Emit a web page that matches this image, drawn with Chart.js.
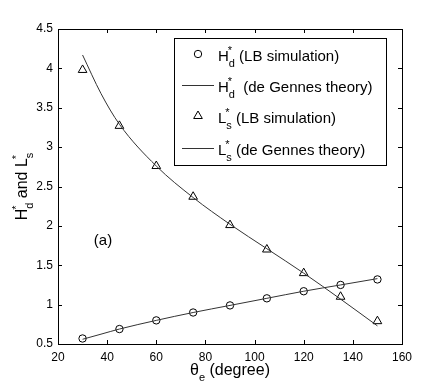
<!DOCTYPE html>
<html>
<head>
<meta charset="utf-8">
<script src="https://cdn.jsdelivr.net/npm/chart.js@4"></script>
<style>
  html, body { margin: 0; padding: 0; background: #fff; }
  #wrap { width: 443px; height: 388px; }
</style>
</head>
<body>
<div id="wrap"><canvas id="chart" width="443" height="388"></canvas></div>
<script>
// ── Data ──────────────────────────────────────────────────────────────────
const thetaSim    = [30, 45, 60, 75, 90, 105, 120, 135, 150];
const hdSim       = [0.57, 0.69, 0.80, 0.90, 0.99, 1.08, 1.17, 1.25, 1.32];
const lsSim       = [3.98, 3.27, 2.76, 2.37, 2.01, 1.70, 1.40, 1.10, 0.79];

const thetaTheory = [30, 37.5, 45, 60, 75, 90, 105, 120, 135, 150];
const hdTheory    = [0.56, 0.625, 0.69, 0.80, 0.90, 0.99, 1.08, 1.17, 1.25, 1.33];
const lsTheory    = [4.17, 3.68, 3.29, 2.76, 2.36, 2.02, 1.71, 1.40, 1.07, 0.73];

const xTicks = [20, 40, 60, 80, 100, 120, 140, 160];
const yTicks = [0.5, 1, 1.5, 2, 2.5, 3, 3.5, 4, 4.5];

const FONT = '"Liberation Sans", Arial, Helvetica, sans-serif';
const LINE = '#333';

const pts = (xs, ys) => xs.map((x, i) => ({ x, y: ys[i] }));

// ── Text with sub/superscript ─────────────────────────────────────────────
function drawSym(ctx, base, sub, sup, x, y, size) {
  ctx.font = size + 'px ' + FONT;
  ctx.fillText(base, x, y);
  let w = ctx.measureText(base).width;
  const small = Math.round(size * 0.7);
  ctx.font = small + 'px ' + FONT;
  let extra = 0;
  if (sub) { ctx.fillText(sub, x + w, y + 6); extra = ctx.measureText(sub).width; }
  if (sup) { ctx.fillText(sup, x + w - 1, y - 7); extra = Math.max(extra, ctx.measureText(sup).width - 1); }
  return w + extra;
}
function symWidth(ctx, base, sub, size) {
  ctx.font = size + 'px ' + FONT;
  const w = ctx.measureText(base).width;
  ctx.font = Math.round(size * 0.7) + 'px ' + FONT;
  return w + (sub ? ctx.measureText(sub).width : 0);
}
function drawText(ctx, t, x, y, size) {
  ctx.font = size + 'px ' + FONT;
  ctx.fillText(t, x, y);
  return ctx.measureText(t).width;
}

// ── Frame, inward ticks, titles, legend ───────────────────────────────────
const decor = {
  id: 'decor',
  afterDraw(chart) {
    const { ctx, chartArea: a, scales } = chart;
    const xs = scales.x, ys = scales.y;
    ctx.save();
    ctx.strokeStyle = '#000';
    ctx.lineWidth = 1;
    ctx.strokeRect(Math.round(a.left) + 0.5, Math.round(a.top) + 0.5,
                   Math.round(a.right - a.left), Math.round(a.bottom - a.top));
    const tl = 4;
    ctx.beginPath();
    xTicks.forEach(v => {
      const px = Math.round(xs.getPixelForValue(v)) + 0.5;
      ctx.moveTo(px, a.bottom); ctx.lineTo(px, a.bottom - tl);
      ctx.moveTo(px, a.top);    ctx.lineTo(px, a.top + tl);
    });
    yTicks.forEach(v => {
      const py = Math.round(ys.getPixelForValue(v)) + 0.5;
      ctx.moveTo(a.left, py);  ctx.lineTo(a.left + tl, py);
      ctx.moveTo(a.right, py); ctx.lineTo(a.right - tl, py);
    });
    ctx.stroke();

    ctx.fillStyle = '#000';
    ctx.textBaseline = 'alphabetic';
    ctx.textAlign = 'left';

    // (a)
    ctx.font = '15px ' + FONT;
    ctx.textAlign = 'center';
    ctx.fillText('(a)', xs.getPixelForValue(38.3), ys.getPixelForValue(1.82) + 5);
    ctx.textAlign = 'left';

    // x title
    const cx = (a.left + a.right) / 2;
    const tw = symWidth(ctx, 'θ', 'e', 16) + (ctx.font = '16px ' + FONT, ctx.measureText(' (degree)').width);
    let x0 = cx - tw / 2;
    x0 += drawSym(ctx, 'θ', 'e', null, x0, 375, 16);
    drawText(ctx, ' (degree)', x0, 375, 16);

    // y title (rotated)
    ctx.save();
    ctx.translate(27, (a.top + a.bottom) / 2);
    ctx.rotate(-Math.PI / 2);
    ctx.font = '16px ' + FONT;
    const yw = symWidth(ctx, 'H', 'd', 16) + (ctx.font = '16px ' + FONT, ctx.measureText(' and L').width) + symWidth(ctx, '', 's', 16);
    let y0 = -yw / 2;
    y0 += drawSym(ctx, 'H', 'd', '*', y0, 0, 16);
    y0 += drawText(ctx, ' and L', y0, 0, 16);
    drawSym(ctx, '', 's', '*', y0, 0, 16);
    ctx.restore();

    // legend
    const L = { x: 174, y: 38, w: 212, h: 127 };
    ctx.strokeRect(L.x + 0.5, L.y + 0.5, L.w, L.h);
    const rows = [
      { kind: 'circle',   base: 'H', sub: 'd', text: ' (LB simulation)',      by: 61 },
      { kind: 'line',     base: 'H', sub: 'd', text: '  (de Gennes theory)',  by: 92 },
      { kind: 'triangle', base: 'L', sub: 's', text: ' (LB simulation)',      by: 123 },
      { kind: 'line',     base: 'L', sub: 's', text: ' (de Gennes theory)',   by: 155 },
    ];
    rows.forEach(r => {
      const my = r.by - 7;
      ctx.strokeStyle = r.kind === 'line' ? LINE : '#000';
      ctx.beginPath();
      if (r.kind === 'circle') {
        ctx.arc(198, my, 3.7, 0, Math.PI * 2);
      } else if (r.kind === 'triangle') {
        ctx.moveTo(198, my - 5);
        ctx.lineTo(198 + 4.33, my + 2.5);
        ctx.lineTo(198 - 4.33, my + 2.5);
        ctx.closePath();
      } else {
        ctx.moveTo(182, my + 0.5); ctx.lineTo(214, my + 0.5);
      }
      ctx.stroke();
      let tx = 218;
      tx += drawSym(ctx, r.base, r.sub, '*', tx, r.by, 15);
      drawText(ctx, r.text, tx, r.by, 15);
    });
    ctx.restore();
  }
};

// ── Chart ─────────────────────────────────────────────────────────────────
new Chart(document.getElementById('chart'), {
  type: 'scatter',
  data: {
    datasets: [
      {
        label: 'Hd* (de Gennes theory)',
        data: pts(thetaTheory, hdTheory),
        showLine: true,
        borderColor: LINE,
        borderWidth: 1,
        pointRadius: 0,
        cubicInterpolationMode: 'monotone',
      },
      {
        label: 'Ls* (de Gennes theory)',
        data: pts(thetaTheory, lsTheory),
        showLine: true,
        borderColor: LINE,
        borderWidth: 1,
        pointRadius: 0,
        cubicInterpolationMode: 'monotone',
      },
      {
        label: 'Hd* (LB simulation)',
        data: pts(thetaSim, hdSim),
        showLine: false,
        pointStyle: 'circle',
        pointRadius: 3.7,
        borderColor: '#000',
        borderWidth: 1,
        backgroundColor: 'rgba(0,0,0,0)',
      },
      {
        label: 'Ls* (LB simulation)',
        data: pts(thetaSim, lsSim),
        showLine: false,
        pointStyle: 'triangle',
        pointRadius: 5,
        borderColor: '#000',
        borderWidth: 1,
        backgroundColor: 'rgba(0,0,0,0)',
      },
    ],
  },
  options: {
    responsive: false,
    animation: false,
    layout: { padding: { top: 29, right: 41, left: 0, bottom: 0 } },
    plugins: { legend: { display: false }, tooltip: { enabled: false } },
    scales: {
      x: {
        type: 'linear',
        min: 20, max: 160,
        afterFit: s => { s.height = 44; },
        afterBuildTicks: s => { s.ticks = xTicks.map(v => ({ value: v })); },
        grid: { display: false, drawTicks: false },
        border: { display: false },
        ticks: { color: '#000', padding: 6, font: { family: FONT, size: 12 }, callback: v => String(v) },
      },
      y: {
        type: 'linear',
        min: 0.5, max: 4.5,
        afterFit: s => { s.width = 58; },
        afterBuildTicks: s => { s.ticks = yTicks.map(v => ({ value: v })); },
        grid: { display: false, drawTicks: false },
        border: { display: false },
        ticks: { color: '#000', padding: 5, font: { family: FONT, size: 12 }, callback: v => String(v) },
      },
    },
  },
  plugins: [decor],
});
</script>
</body>
</html>
